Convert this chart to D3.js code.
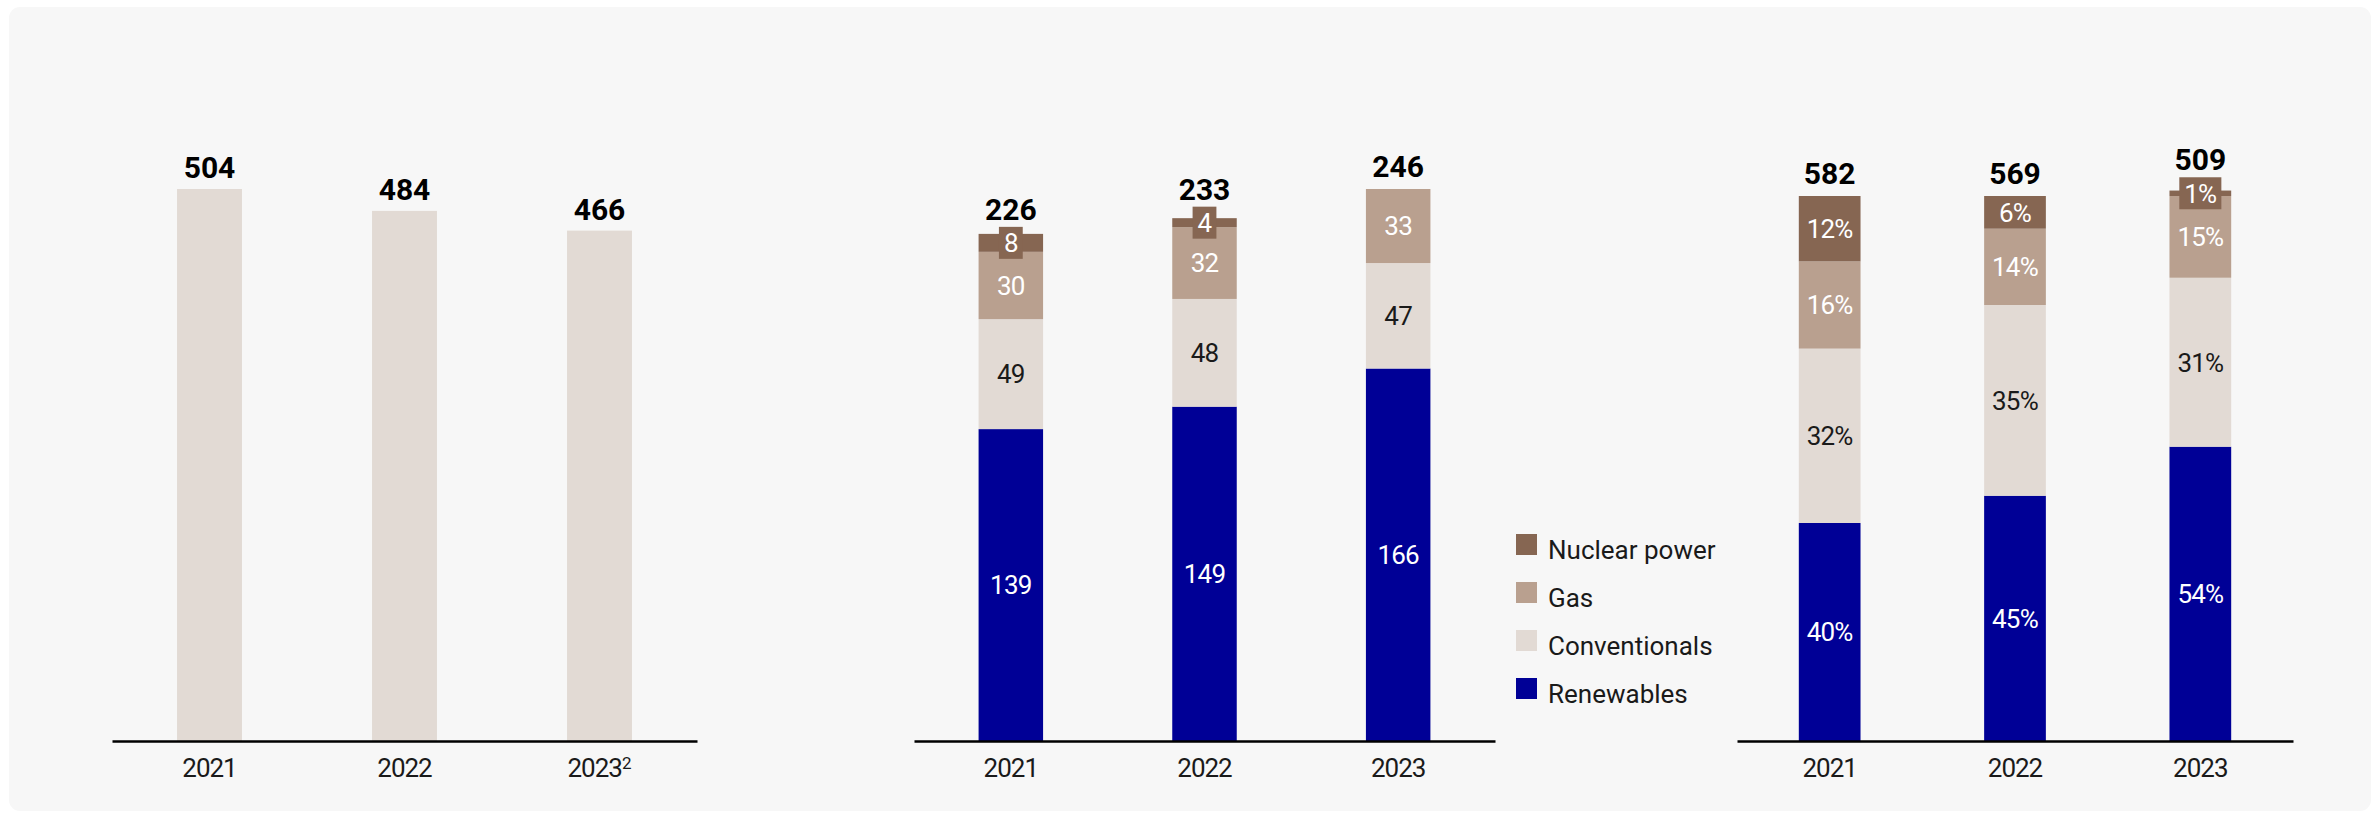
<!DOCTYPE html>
<html>
<head>
<meta charset="utf-8">
<script src="https://cdn.jsdelivr.net/npm/d3@7"></script>
<style>
  html, body { margin: 0; padding: 0; background: #ffffff; }
  svg { display: block; }
  text { font-family: Roboto, "DejaVu Sans", sans-serif; }
</style>
</head>
<body>
<div id="chart"></div>
<script>
// ---------- DATA ----------
const years = ["2021", "2022", "2023"];
const footnoteYear = "2023";
const footnoteMark = "2";

// Chart 1: single series
const chart1Values = [504, 484, 466];

// Chart 2: absolute values by source
const seriesKeys = ["Renewables", "Conventionals", "Gas", "Nuclear power"];
const absRenewables = [139, 149, 166];
const absConventionals = [49, 48, 47];
const absGas = [30, 32, 33];
const absNuclear = [8, 4, 0];
const absTotals = [226, 233, 246];

// Chart 3: percentage shares
const pctRenewables = [40, 45, 54];
const pctConventionals = [32, 35, 31];
const pctGas = [16, 14, 15];
const pctNuclear = [12, 6, 1];
const pctTotals = [582, 569, 509];

const legendOrder = ["Nuclear power", "Gas", "Conventionals", "Renewables"];

// ---------- STYLE ----------
const colors = {
  "Renewables": "#000096",
  "Conventionals": "#e2dad4",
  "Gas": "#b9a08f",
  "Nuclear power": "#866652"
};
const labelColors = {
  "Renewables": "#ffffff",
  "Conventionals": "#1a1a1a",
  "Gas": "#ffffff",
  "Nuclear power": "#ffffff"
};

const W = 2380, H = 818;
const baseY = 741;
const topY = 189;

const svg = d3.select("#chart").append("svg")
  .attr("width", W).attr("height", H);

// panel background
svg.append("rect")
  .attr("x", 9).attr("y", 7)
  .attr("width", W - 18).attr("height", H - 14)
  .attr("rx", 11).attr("ry", 11)
  .attr("fill", "#f7f7f7");

function makeX(range) {
  return d3.scaleBand().domain(years).range(range)
    .paddingInner(0.667).paddingOuter(0.3335);
}

function drawAxis(g, x, fmtExtra) {
  const axis = d3.axisBottom(x).tickSize(0).tickSizeOuter(0);
  const ag = g.append("g").attr("transform", `translate(0,${baseY})`).call(axis);
  ag.select(".domain").attr("stroke", "#000").attr("stroke-width", 2.4);
  ag.selectAll(".tick text")
    .attr("y", 36).attr("dy", null)
    .attr("font-size", 26)
    .attr("letter-spacing", -1)
    .attr("fill", "#1a1a1a")
    .attr("font-family", "Roboto, sans-serif");
  if (fmtExtra) fmtExtra(ag);
  return ag;
}

function totalLabel(g, x, y, txt) {
  g.append("text")
    .attr("x", x).attr("y", y)
    .attr("text-anchor", "middle")
    .attr("font-size", 30)
    .attr("font-weight", 700)
    .attr("fill", "#000")
    .text(txt);
}

// ---------- CHART 1 ----------
{
  const g = svg.append("g");
  const x = makeX([112, 697]);
  const y = d3.scaleLinear().domain([0, 504]).range([baseY, topY]);
  g.selectAll("rect.bar").data(years).join("rect")
    .attr("class", "bar")
    .attr("x", d => x(d))
    .attr("width", x.bandwidth())
    .attr("y", (d, i) => y(chart1Values[i]))
    .attr("height", (d, i) => y(0) - y(chart1Values[i]))
    .attr("fill", colors["Conventionals"]);
  years.forEach((yr, i) => {
    totalLabel(g, x(yr) + x.bandwidth() / 2, y(chart1Values[i]) - 11, chart1Values[i]);
  });
  drawAxis(g, x, ag => {
    ag.selectAll(".tick text").filter(d => d === footnoteYear).each(function (d) {
      const t = d3.select(this);
      t.text(null);
      t.append("tspan").text(d);
      t.append("tspan").attr("font-size", 17).attr("dy", -8).attr("letter-spacing", 0).text(footnoteMark);
    });
  });
}

// ---------- stacked charts ----------
function drawStacked(range, yScale, table, totals, fmt) {
  const g = svg.append("g");
  const x = makeX(range);
  const stack = d3.stack().keys(seriesKeys)(table);
  const segs = [];
  stack.forEach(layer => {
    layer.forEach((s, i) => {
      segs.push({ key: layer.key, year: years[i], y0: s[0], y1: s[1], v: s[1] - s[0] });
    });
  });
  const visible = segs.filter(s => s.v > 0);
  g.selectAll("rect.seg").data(visible).join("rect")
    .attr("class", "seg")
    .attr("x", d => x(d.year))
    .attr("width", x.bandwidth())
    .attr("y", d => yScale(d.y1))
    .attr("height", d => yScale(d.y0) - yScale(d.y1))
    .attr("fill", d => colors[d.key]);

  const topOfLabel = {};
  years.forEach((yr, i) => {
    const top = d3.max(visible.filter(s => s.year === yr), s => s.y1);
    topOfLabel[yr] = yScale(top) - 12;
  });

  visible.forEach(s => {
    const cx = x(s.year) + x.bandwidth() / 2;
    const cy = (yScale(s.y0) + yScale(s.y1)) / 2;
    const h = yScale(s.y0) - yScale(s.y1);
    const lg = g.append("g");
    const t = lg.append("text")
      .attr("x", cx).attr("y", cy)
      .attr("dy", "0.36em")
      .attr("text-anchor", "middle")
      .attr("font-size", 26)
      .attr("letter-spacing", -0.8)
      .attr("fill", labelColors[s.key])
      .text(fmt(s.v));
    if (h < 24) {
      const tw = t.node().getComputedTextLength();
      const bw = tw + 10, bh = 32;
      lg.insert("rect", "text")
        .attr("x", cx - bw / 2).attr("y", cy - bh / 2)
        .attr("width", bw).attr("height", bh)
        .attr("fill", colors[s.key]);
      topOfLabel[s.year] = Math.min(topOfLabel[s.year], cy - bh / 2 - 7);
    }
  });

  years.forEach((yr, i) => {
    totalLabel(g, x(yr) + x.bandwidth() / 2, topOfLabel[yr], totals[i]);
  });
  drawAxis(g, x);
}

const absTable = years.map((yr, i) => ({
  year: yr,
  "Renewables": absRenewables[i],
  "Conventionals": absConventionals[i],
  "Gas": absGas[i],
  "Nuclear power": absNuclear[i]
}));
const pctTable = years.map((yr, i) => ({
  year: yr,
  "Renewables": pctRenewables[i],
  "Conventionals": pctConventionals[i],
  "Gas": pctGas[i],
  "Nuclear power": pctNuclear[i]
}));

drawStacked([914, 1495], d3.scaleLinear().domain([0, 246]).range([baseY, topY]),
  absTable, absTotals, v => String(v));
drawStacked([1737, 2293], d3.scaleLinear().domain([0, 100]).range([baseY, 196]),
  pctTable, pctTotals, v => v + "%");

// ---------- LEGEND ----------
{
  const lg = svg.append("g").attr("transform", "translate(1516,534)");
  const item = lg.selectAll("g").data(legendOrder).join("g")
    .attr("transform", (d, i) => `translate(0,${i * 48})`);
  item.append("rect").attr("width", 21).attr("height", 21)
    .attr("fill", d => colors[d]);
  item.append("text").attr("x", 32).attr("y", 25)
    .attr("font-size", 26)
    .attr("fill", "#1a1a1a")
    .text(d => d);
}
</script>
</body>
</html>
